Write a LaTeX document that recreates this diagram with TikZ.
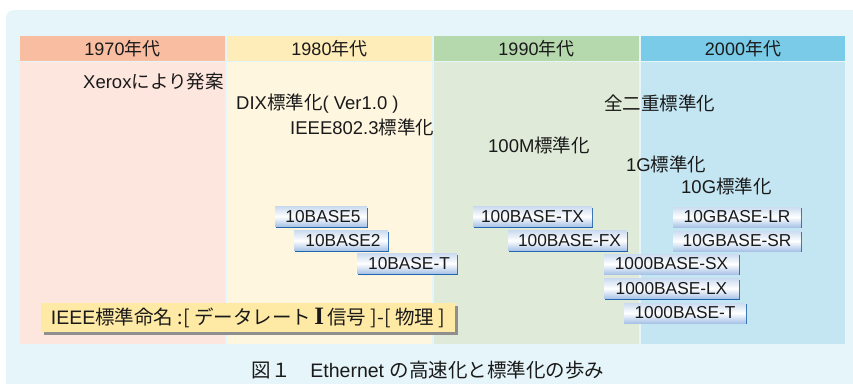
\documentclass[tikz,border=0pt]{standalone}
\usepackage{fontspec}
\setmainfont{Liberation Sans}
\newfontfamily\jp{Noto Sans CJK JP}
\newfontfamily\serifI{Liberation Serif}
\usetikzlibrary{shadows}
\definecolor{bg}{HTML}{E6F5FA}
\definecolor{hA}{HTML}{F9BDA2}
\definecolor{bA}{HTML}{FDE6DE}
\definecolor{hB}{HTML}{FFEDB9}
\definecolor{bB}{HTML}{FFF6E0}
\definecolor{hC}{HTML}{B6D8AD}
\definecolor{bC}{HTML}{DFEBD8}
\definecolor{hD}{HTML}{79CBE7}
\definecolor{bD}{HTML}{C4E6F2}
\definecolor{ieee}{HTML}{FFEAA5}
\definecolor{shgray}{HTML}{8F8F8F}
\definecolor{boxline}{HTML}{2266B0}
\definecolor{boxtop}{HTML}{CBDBF0}
\definecolor{boxbot}{HTML}{A9C3E7}
\definecolor{txt}{HTML}{1A1A1A}
\tikzset{
  hdr/.style={inner sep=0pt, minimum width=205pt, minimum height=25pt, text=txt,
    font=\fontsize{18}{20}\selectfont},
  freetxt/.style={inner sep=0pt, anchor=west, text=txt, font=\fontsize{18.5}{21}\selectfont},
  stdbox/.style={inner sep=0pt, minimum height=20pt, text=txt,
    font=\fontsize{17.3}{19}\selectfont,
    top color=boxtop, bottom color=boxbot, middle color=white,
    drop shadow={shadow xshift=1.2pt, shadow yshift=-1.2pt, fill=boxline, opacity=1}},
}
\begin{document}
\begin{tikzpicture}[x=1pt,y=-1pt]
\useasboundingbox (0,0) rectangle (853,383);
\fill[white] (0,0) rectangle (853,383);
\begin{scope}
\clip (0,0) rectangle (853,383);
\fill[bg, rounded corners=8pt] (6,10) rectangle (880,400);
\end{scope}
% columns
\fill[bA] (20,62) rectangle (225,344);
\fill[bB] (227,62) rectangle (432,344);
\fill[bC] (434,62) rectangle (639,344);
\fill[bD] (641,62) rectangle (845,344);
\node[hdr, fill=hA] (h70) at (122.5,48.5) {1970{\jp 年代}};
\node[hdr, fill=hB] (h80) at (329.5,48.5) {1980{\jp 年代}};
\node[hdr, fill=hC] (h90) at (536.5,48.5) {1990{\jp 年代}};
\node[hdr, fill=hD, minimum width=204pt] (h00) at (743,48.5) {2000{\jp 年代}};
% events
\node[freetxt] (xerox) at (83,82) {Xerox{\jp により発案}};
\node[freetxt] (dix) at (236,104) {DIX{\jp 標準化}( Ver1.0 )};
\node[freetxt] (ieee3) at (290,127) {IEEE802.3{\jp 標準化}};
\node[freetxt] (fdx) at (604,103) {\jp 全二重標準化};
\node[freetxt] (m100) at (488,145) {100M{\jp 標準化}};
\node[freetxt] (g1) at (626,164) {1G{\jp 標準化}};
\node[freetxt] (g10) at (681,186) {10G{\jp 標準化}};
% standards
\node[stdbox, minimum width=92pt] (b5) at (321,216.5) {\hspace{4pt}10BASE5};
\node[stdbox, minimum width=94pt] (b2) at (341,240.5) {\hspace{4pt}10BASE2};
\node[stdbox, minimum width=100pt] (bt) at (407,263.5) {\hspace{4pt}10BASE-T};
\node[stdbox, minimum width=119pt] (btx) at (532.5,216.5) {100BASE-TX};
\node[stdbox, minimum width=119pt] (bfx) at (567.5,240.5) {\hspace{4pt}100BASE-FX};
\node[stdbox, minimum width=128pt] (glr) at (737,217) {10GBASE-LR};
\node[stdbox, minimum width=128pt] (gsr) at (737,241) {10GBASE-SR};
\node[stdbox, minimum width=135pt] (gsx) at (671.5,264) {1000BASE-SX};
\node[stdbox, minimum width=135pt] (glx) at (671.5,288.5) {1000BASE-LX};
\node[stdbox, minimum width=122pt] (gt) at (685,313) {1000BASE-T};
% naming legend
\node[inner sep=0pt, minimum width=414pt, minimum height=29pt, fill=ieee, text=txt,
  font=\fontsize{19.5}{22}\selectfont,
  drop shadow={shadow xshift=3pt, shadow yshift=-3pt, fill=shgray, opacity=1}]
  (legend) at (248,317.5) {IEEE{\jp 標準命名 :[ データレート}\,{\serifI\bfseries\fontsize{25}{25}\selectfont I}\,{\jp 信号 ]-[ 物理 ]}};
% caption
\node[inner sep=0pt, text=txt, font=\fontsize{19.5}{22}\selectfont] (cap) at (428,370)
  {{\jp 図１　}Ethernet {\jp の高速化と標準化の歩み}};
\end{tikzpicture}
\end{document}
